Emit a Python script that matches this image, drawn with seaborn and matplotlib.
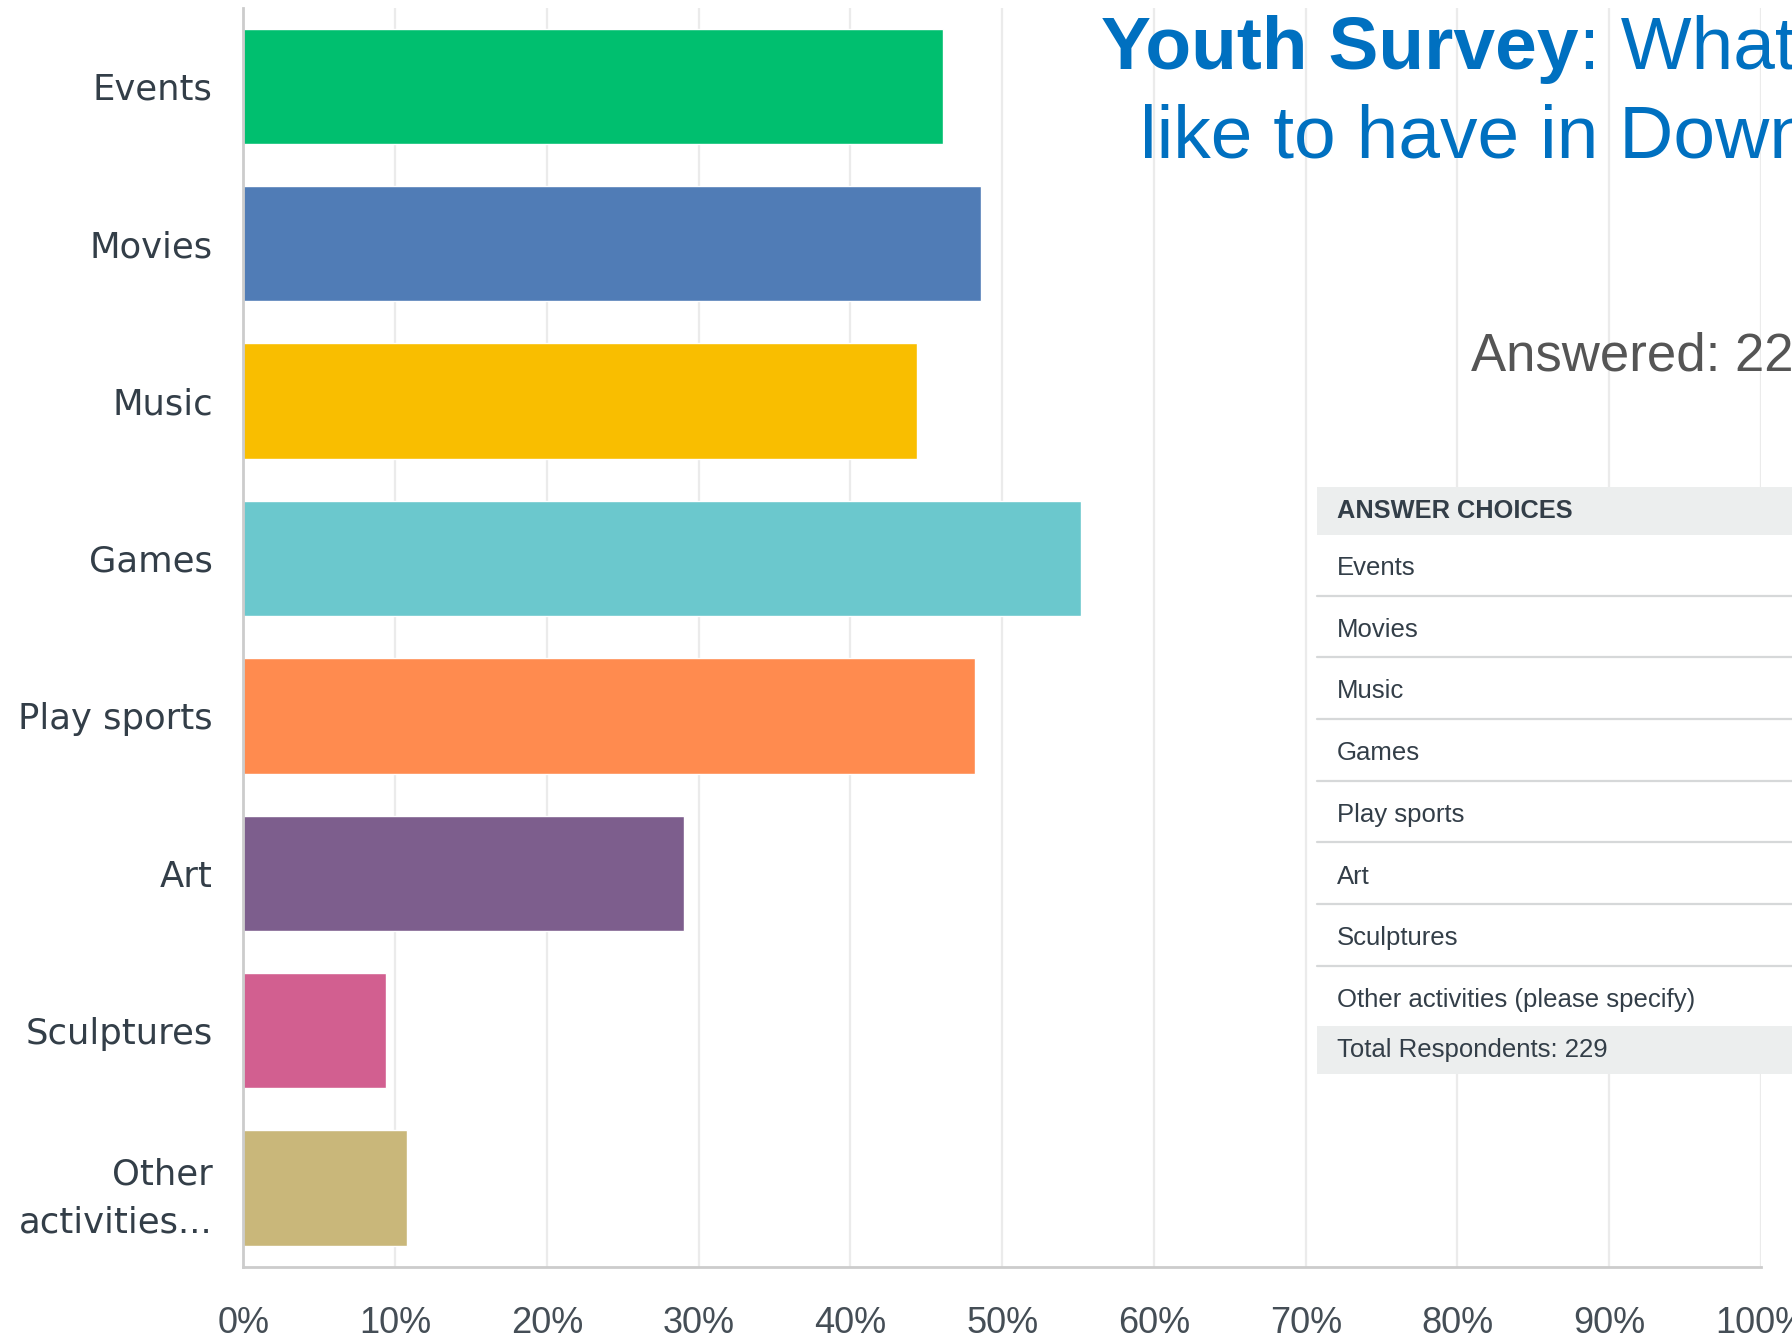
import matplotlib
matplotlib.use("Agg")
import matplotlib.pyplot as plt
from matplotlib.lines import Line2D
from matplotlib.patches import Rectangle
import seaborn as sns
import pandas as pd

# ---------------- data ----------------
categories = ["Events", "Movies", "Music", "Games", "Play sports", "Art",
              "Sculptures", "Other\nactivities..."]
percent = [46.1, 48.6, 44.4, 55.2, 48.2, 29.0, 9.4, 10.75]
bar_colors = ["#00BF6F", "#507CB6", "#F9BE00", "#6BC8CD", "#FF8B4F",
              "#7D5E8D", "#D25F90", "#C9B77A"]
x_ticks = [0, 10, 20, 30, 40, 50, 60, 70, 80, 90, 100]
x_tick_labels = [f"{v}%" for v in x_ticks]

table_header = "ANSWER CHOICES"
table_choices = ["Events", "Movies", "Music", "Games", "Play sports", "Art",
                 "Sculptures", "Other activities (please specify)"]
total_respondents = 229
answered_text = "Answered: 229"
title_bold = "Youth Survey"
title_rest = ": What would you"
title_line2 = "like to have in Downtown?"

# ---------------- figure ----------------
sns.set_theme(style="white")
plt.rcParams["font.family"] = ["DejaVu Sans"]

W, H = 1792, 1340
fig = plt.figure(figsize=(W / 100, H / 100), dpi=100)
fig.patch.set_facecolor("white")

def fx(px):
    return px / W

def fy(py):
    return 1 - py / H

ax_left, ax_right, ax_top, ax_bottom = 243.4, 1761.0, 7.6, 1266.7
ax = fig.add_axes([fx(ax_left), fy(ax_bottom), fx(ax_right - ax_left),
                   (ax_bottom - ax_top) / H])

df = pd.DataFrame({"category": categories, "percent": percent})
sns.barplot(data=df, x="percent", y="category", hue="category",
            palette=bar_colors, legend=False, width=0.733, saturation=1,
            ax=ax, zorder=2)

ax.set_xlim(0, 100)
ax.set_ylim(len(categories) - 0.5, -0.5)
ax.set_xlabel("")
ax.set_ylabel("")
ax.set_axisbelow(True)
ax.xaxis.grid(True, color="#ebebeb", linewidth=1.6)
ax.yaxis.grid(False)
ax.set_xticks(x_ticks)
ax.set_xticklabels(x_tick_labels, fontfamily="Liberation Sans", fontsize=26,
                   color="#454e56")
ax.tick_params(axis="x", length=0, pad=28)
ax.tick_params(axis="y", length=0, pad=22)
for lab in ax.get_yticklabels():
    lab.set_fontsize(25.5)
    lab.set_color("#333e48")
    lab.set_linespacing(1.5)
    lab.set_fontfamily("DejaVu Sans")

for s in ["top", "right"]:
    ax.spines[s].set_visible(False)
for s in ["left", "bottom"]:
    ax.spines[s].set_color("#cccccc")
    ax.spines[s].set_linewidth(2.0)

# ---------------- title / annotations ----------------
title_color = "#0070C0"
t1 = fig.text(fx(1101), fy(69), title_bold, fontfamily="Liberation Sans",
              fontsize=54, fontweight="bold", color=title_color,
              ha="left", va="baseline")
fig.canvas.draw()
bb = t1.get_window_extent()
fig.text(bb.x1 / W, fy(69), title_rest, fontfamily="Liberation Sans",
         fontsize=54, color=title_color, ha="left", va="baseline")
fig.text(fx(1140), fy(157), title_line2, fontfamily="Liberation Sans",
         fontsize=54, color=title_color, ha="left", va="baseline")
fig.text(fx(1471), fy(371), answered_text, fontfamily="Liberation Sans",
         fontsize=38, color="#555555", ha="left", va="baseline")

# ---------------- table ----------------
tx0 = 1317
fig.add_artist(Rectangle((fx(tx0), fy(1074)), 1 - fx(tx0), (1074 - 487) / H,
                         transform=fig.transFigure, facecolor="white",
                         edgecolor="none", zorder=3))
band = "#ECEEEE"
fig.add_artist(Rectangle((fx(tx0), fy(535)), 1 - fx(tx0), (535 - 487) / H,
                         transform=fig.transFigure, facecolor=band,
                         edgecolor="none", zorder=4))
fig.add_artist(Rectangle((fx(tx0), fy(1074)), 1 - fx(tx0), (1074 - 1026) / H,
                         transform=fig.transFigure, facecolor=band,
                         edgecolor="none", zorder=4))
text_x = fx(1337)
tcol = "#333e48"
fig.text(text_x, fy(511), table_header, fontfamily="Liberation Sans",
         fontsize=18.3, fontweight="bold", color=tcol, ha="left",
         va="center", zorder=5)
row_centers = [568, 629.7, 691.4, 753.2, 814.9, 876.6, 938.3, 1000]
sep_lines = [595.5, 657.2, 718.9, 780.6, 842.3, 904.0, 965.7]
for name, yc in zip(table_choices, row_centers):
    fig.text(text_x, fy(yc), name, fontfamily="Liberation Sans", fontsize=18.5,
             color=tcol, ha="left", va="center", zorder=5)
for yl in sep_lines:
    fig.add_artist(Line2D([fx(tx0), 1], [fy(yl), fy(yl)],
                          transform=fig.transFigure, color="#d6d8d9",
                          linewidth=1.6, zorder=5))
fig.text(text_x, fy(1050), f"Total Respondents: {total_respondents}",
         fontfamily="Liberation Sans", fontsize=18.5, color=tcol,
         ha="left", va="center", zorder=5)

fig.savefig("out.png", dpi=100, facecolor="white")
